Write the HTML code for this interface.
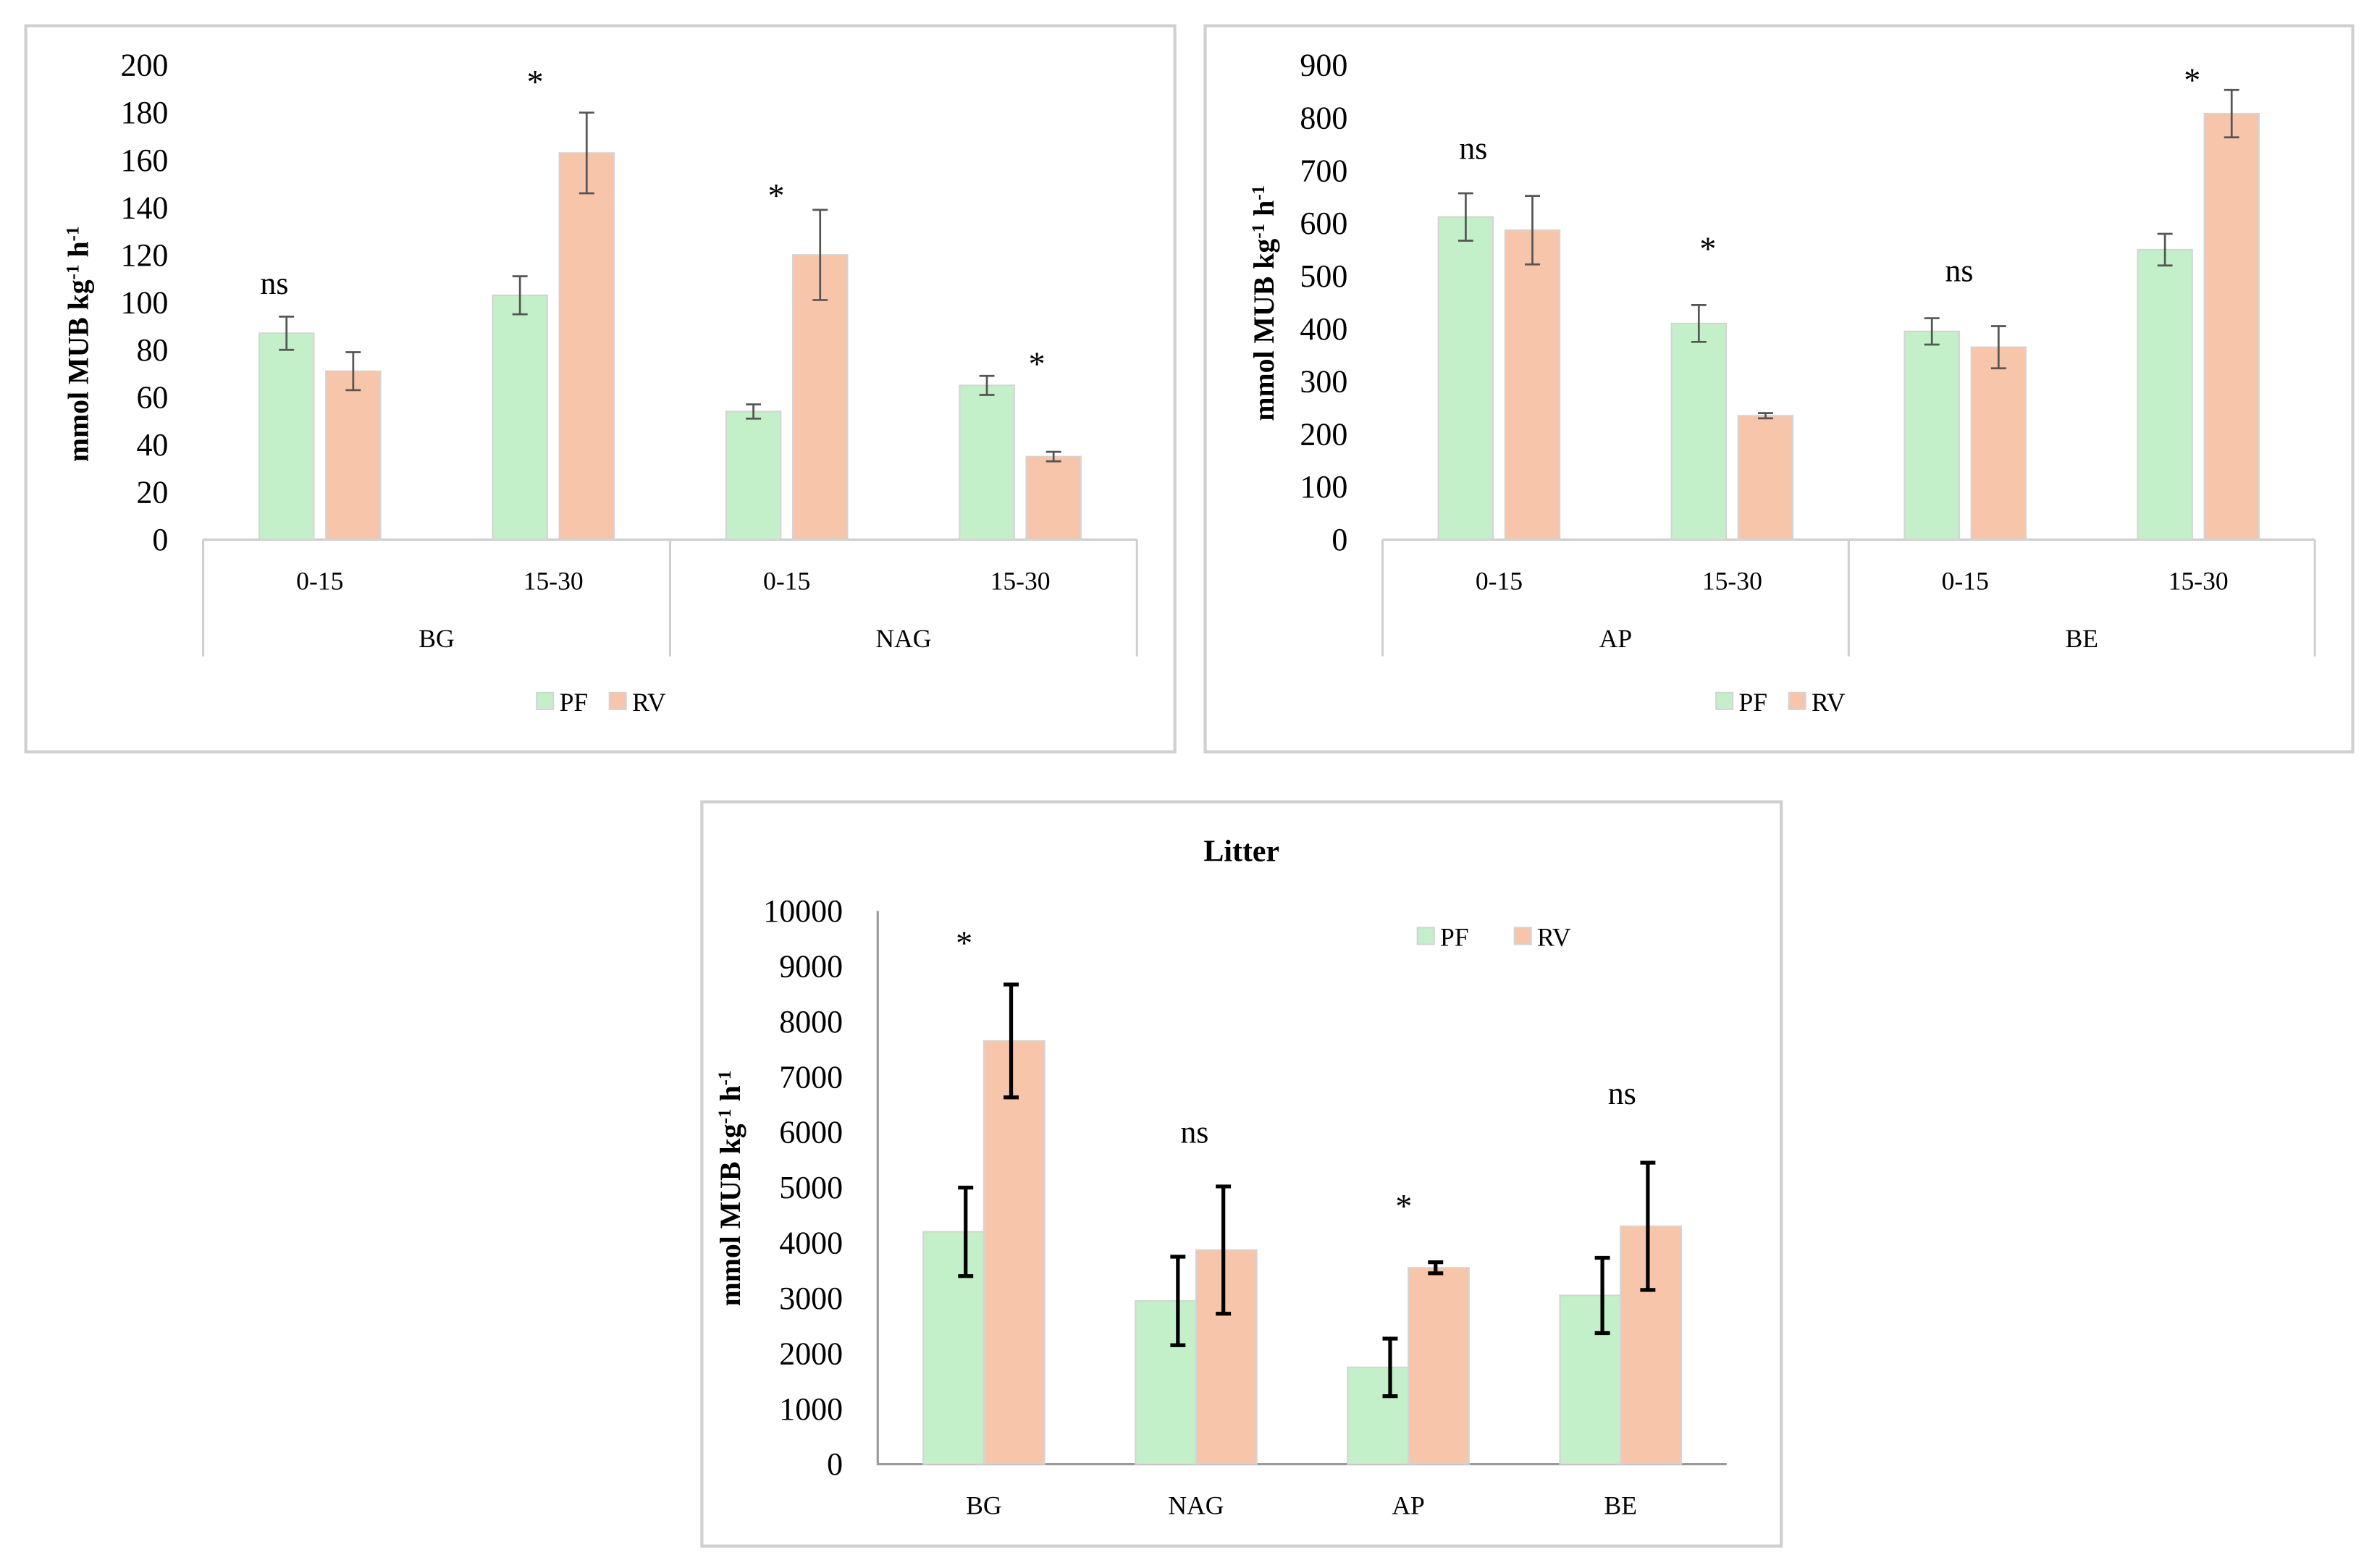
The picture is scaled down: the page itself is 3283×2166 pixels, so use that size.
<!DOCTYPE html>
<html><head><meta charset="utf-8"><style>
html,body{margin:0;padding:0;background:#fff}
svg{display:block}
text{font-family:"Liberation Serif",serif;fill:#000}
</style></head><body>
<svg id="s" width="3283" height="2166" viewBox="0 0 1568 1034.5" preserveAspectRatio="none"></svg>
<script>
// Chart 1 (BG / NAG)
const c1Groups=["BG","NAG"];
const c1Depths=["0-15","15-30","0-15","15-30"];
const c1PF=[87,103,54,65];
const c1PFerr=[7,8,3,4];
const c1RV=[71,163,120,35];
const c1RVerr=[8,17,19,2];
const c1Ticks=[0,20,40,60,80,100,120,140,160,180,200];
const c1Sig=["ns","*","*","*"];
const c1SigVal=[108,196,148,77];
// Chart 2 (AP / BE)
const c2Groups=["AP","BE"];
const c2Depths=["0-15","15-30","0-15","15-30"];
const c2PF=[612,410,395,550];
const c2PFerr=[45,35,25,30];
const c2RV=[587,235,365,808];
const c2RVerr=[65,5,40,45];
const c2Ticks=[0,100,200,300,400,500,600,700,800,900];
const c2Sig=["ns","*","ns","*"];
const c2SigVal=[742,565,510,885];
// Chart 3 (Litter)
const c3Cats=["BG","NAG","AP","BE"];
const c3PF=[4200,2950,1750,3050];
const c3PFerr=[800,800,520,680];
const c3RV=[7650,3870,3550,4300];
const c3RVerr=[1020,1150,100,1150];
const c3Ticks=[0,1000,2000,3000,4000,5000,6000,7000,8000,9000,10000];
const c3Sig=["*","ns","*","ns"];
const c3SigVal=[9550,6000,4790,6700];

const S=document.getElementById('s');
const NS="http://www.w3.org/2000/svg";
function el(t,a,txt){const e=document.createElementNS(NS,t);for(const k in a)e.setAttribute(k,a[k]);if(txt!==undefined)e.textContent=txt;S.appendChild(e);return e;}
const GREEN="#c4f0c9",ORANGE="#f7c5aa",BORD="#d4d4d4";

function frame(x,y,w,h,name){
  const r=el('rect',{x:x,y:y,width:w,height:h,fill:'#fff',stroke:'#d0d0d0','stroke-width':2});
  
  
}
function yTitle(x,y,name){
  const t=el('text',{x:0,y:0,transform:`translate(${x},${y}) rotate(-90)`,'text-anchor':'middle','font-size':19,'font-weight':'bold'});
  t.innerHTML='mmol MUB kg<tspan baseline-shift="super" font-size="12">-1</tspan> h<tspan baseline-shift="super" font-size="12">-1</tspan>';
  
  
}
function errBar(cx,yv,ye,col,sw,cap){
  const l=el('path',{d:`M${cx},${yv-ye}V${yv+ye}M${cx-cap},${yv-ye}H${cx+cap}M${cx-cap},${yv+ye}H${cx+cap}`,stroke:col,'stroke-width':sw,fill:'none'});
  
  
}

function depthChart(o){
  const y=v=>o.y0-(v/o.max)*(o.y0-o.yTop);
  o.ticks.forEach(t=>{
    const e=el('text',{x:o.tickX,y:y(t)+7,'text-anchor':'end','font-size':21},t);
    
    
  });
  const cw=(o.x1-o.x0)/4;
  const ax=el('path',{d:`M${o.x0},${o.y0}H${o.x1}M${o.x0},${o.y0}V433M${o.x0+2*cw},${o.y0}V433M${o.x1},${o.y0}V433`,stroke:'#d0d0d0','stroke-width':1.5,fill:'none'});
  
  
  for(let i=0;i<4;i++){
    const c=o.x0+cw*(i+0.5);
    const b1=el('rect',{x:c-40,y:y(o.pf[i]),width:36,height:o.y0-y(o.pf[i]),fill:GREEN,stroke:BORD,'stroke-width':1});
    
    
    const b2=el('rect',{x:c+4,y:y(o.rv[i]),width:36,height:o.y0-y(o.rv[i]),fill:ORANGE,stroke:BORD,'stroke-width':1});
    
    
    errBar(c-22,y(o.pf[i]),(o.pfe[i]/o.max)*(o.y0-o.yTop),'#555',1.3,5);
    errBar(c+22,y(o.rv[i]),(o.rve[i]/o.max)*(o.y0-o.yTop),'#555',1.3,5);
    const s=el('text',{x:c+o.sigDx[i],y:y(o.sigV[i])+(o.sig[i]==='*'?12:7),'text-anchor':'middle','font-size':o.sig[i]==='*'?22:21},o.sig[i]);
    
    
    const d=el('text',{x:c,y:389,'text-anchor':'middle','font-size':17},o.depths[i]);
    
    
  }
  o.groups.forEach((g,j)=>{
    const t=el('text',{x:o.x0+cw*(2*j+1),y:427,'text-anchor':'middle','font-size':17},g);
    
    
  });
  const lx=o.legendX;
  const r1=el('rect',{x:lx,y:457,width:11,height:11,fill:GREEN,stroke:BORD});
  
  
  const t1=el('text',{x:lx+15,y:469,'font-size':17},'PF');
  
  
  const r2=el('rect',{x:lx+48,y:457,width:11,height:11,fill:ORANGE,stroke:BORD});
  
  
  const t2=el('text',{x:lx+63,y:469,'font-size':17},'RV');
  
  
}

frame(17,17,758,479,'panel-bg-nag');
frame(795,17,757,479,'panel-ap-be');
frame(463,529,712,491,'panel-litter');

yTitle(58,227,'y-axis-title-1');
depthChart({y0:356,yTop:43,max:200,ticks:c1Ticks,tickX:111,x0:134,x1:750,pf:c1PF,pfe:c1PFerr,rv:c1RV,rve:c1RVerr,sig:c1Sig,sigV:c1SigVal,sigDx:[-30,-12,-7,11],depths:c1Depths,groups:c1Groups,legendX:354});
yTitle(840,200,'y-axis-title-2');
depthChart({y0:356,yTop:43,max:900,ticks:c2Ticks,tickX:889,x0:912,x1:1527,pf:c2PF,pfe:c2PFerr,rv:c2RV,rve:c2RVerr,sig:c2Sig,sigV:c2SigVal,sigDx:[-17,-16,-4,-4],depths:c2Depths,groups:c2Groups,legendX:1132});

// Chart 3
(function(){
  const y0=966,yTop=601,max=10000,x0=579,x1=1139;
  const y=v=>y0-(v/max)*(y0-yTop);
  const h=v=>(v/max)*(y0-yTop);
  const ti=el('text',{x:819,y:568,'text-anchor':'middle','font-size':20,'font-weight':'bold'},'Litter');
  
  
  yTitle(488,784,'y-axis-title-3');
  c3Ticks.forEach(t=>{
    const e=el('text',{x:556,y:y(t)+7,'text-anchor':'end','font-size':21},t);
    
    
  });
  const ax=el('path',{d:`M${x0},${yTop}V${y0}H${x1}`,stroke:'#999','stroke-width':1.5,fill:'none'});
  
  
  const cw=(x1-x0)/4;
  const sigDx=[-13,-1,-3,1];
  c3Cats.forEach((c,i)=>{
    const cx=x0+cw*(i+0.5);
    const b1=el('rect',{x:cx-40,y:y(c3PF[i]),width:40,height:h(c3PF[i]),fill:GREEN,stroke:BORD});
    
    
    const b2=el('rect',{x:cx,y:y(c3RV[i]),width:40,height:h(c3RV[i]),fill:ORANGE,stroke:BORD});
    
    
    errBar(cx-12,y(c3PF[i]),h(c3PFerr[i]),'#000',2.5,5);
    errBar(cx+18,y(c3RV[i]),h(c3RVerr[i]),'#000',2.5,5);
    const s=el('text',{x:cx+sigDx[i],y:y(c3SigVal[i])+(c3Sig[i]==='*'?12:7),'text-anchor':'middle','font-size':c3Sig[i]==='*'?22:21},c3Sig[i]);
    
    
    const t=el('text',{x:cx,y:999,'text-anchor':'middle','font-size':17},c);
    
    
  });
  const r1=el('rect',{x:935,y:612,width:11,height:11,fill:GREEN,stroke:BORD});
  
  
  const t1=el('text',{x:950,y:624,'font-size':17},'PF');
  
  
  const r2=el('rect',{x:999,y:612,width:11,height:11,fill:ORANGE,stroke:BORD});
  
  
  const t2=el('text',{x:1014,y:624,'font-size':17},'RV');
  
  
})();
</script>
</body></html>
